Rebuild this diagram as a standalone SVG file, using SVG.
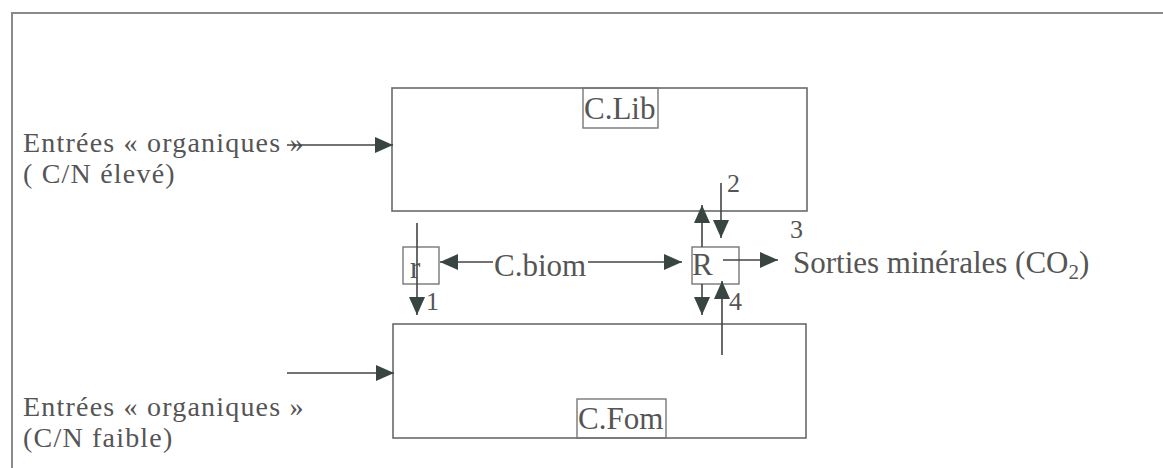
<svg xmlns="http://www.w3.org/2000/svg" width="1163" height="468" viewBox="0 0 1163 468">
<defs>
<style>
.t{font-family:"Liberation Serif","Times New Roman",serif;font-size:31px;fill:#555}
.e{font-family:"Liberation Serif","Times New Roman",serif;font-size:28px;letter-spacing:1.2px;fill:#555}
.d{font-family:"Liberation Serif","Times New Roman",serif;font-size:26px;fill:#555}
.box{fill:none;stroke:#6a6a6a;stroke-width:1.6}
.lbl{fill:none;stroke:#777;stroke-width:1.4}
.c{fill:none;stroke:#444;stroke-width:1.6}
</style>
<marker id="ah" markerUnits="userSpaceOnUse" markerWidth="18" markerHeight="16" refX="18" refY="8" orient="auto" viewBox="0 0 18 16">
<path d="M0,0 L18,8 L0,16 z" fill="#384542"/>
</marker>
</defs>
<rect width="1163" height="468" fill="#fff"/>
<g id="frame">
<path d="M12,468 V13 H1163" fill="none" stroke="#8a8a8a" stroke-width="2"/>
</g>
<g id="clib">
<rect class="box" x="392" y="88" width="415" height="123"/>
<rect class="lbl" x="583" y="88" width="75" height="40"/>
<text class="t" x="584" y="119">C.Lib</text>
</g>
<g id="cfom">
<rect class="box" x="393" y="324" width="413" height="114"/>
<rect class="lbl" x="577" y="399" width="89" height="39"/>
<text class="t" x="578" y="429">C.Fom</text>
</g>
<g id="r-small">
<rect class="lbl" x="403" y="247" width="36" height="37"/>
<text class="t" x="410" y="278">r</text>
</g>
<g id="r-big">
<rect class="lbl" x="692" y="247" width="47" height="37"/>
<text class="t" x="692" y="275">R</text>
</g>
<g id="cbiom">
<text class="t" x="494" y="276">C.biom</text>
</g>
<g id="in-high">
<text class="e"><tspan x="23" y="152">Entrées « organiques »</tspan><tspan x="23" y="183">( C/N élevé)</tspan></text>
</g>
<g id="in-low">
<text class="e"><tspan x="23" y="416">Entrées « organiques »</tspan><tspan x="23" y="447">(C/N faible)</tspan></text>
</g>
<g id="out">
<text class="t" x="793" y="273">Sorties minérales (CO<tspan font-size="21" dy="6">2</tspan><tspan dy="-6">)</tspan></text>
</g>
<g id="numbers">
<text class="d" x="426" y="310">1</text>
<text class="d" x="727" y="192">2</text>
<text class="d" x="790" y="238">3</text>
<text class="d" x="729" y="310">4</text>
</g>
<g id="connectors">
<line class="c" x1="287" y1="145" x2="393" y2="145" marker-end="url(#ah)"/>
<line class="c" x1="287" y1="373" x2="394" y2="373" marker-end="url(#ah)"/>
<line class="c" x1="417" y1="223" x2="417" y2="315" marker-end="url(#ah)"/>
<line class="c" x1="493" y1="262" x2="440" y2="262" marker-end="url(#ah)"/>
<line class="c" x1="588" y1="262" x2="682" y2="262" marker-end="url(#ah)"/>
<line class="c" x1="723" y1="260" x2="778" y2="260" marker-end="url(#ah)"/>
<line class="c" x1="702" y1="247" x2="702" y2="205" marker-end="url(#ah)"/>
<line class="c" x1="721" y1="183" x2="721" y2="238" marker-end="url(#ah)"/>
<line class="c" x1="702" y1="284" x2="702" y2="315" marker-end="url(#ah)"/>
<line class="c" x1="722" y1="355" x2="722" y2="281" marker-end="url(#ah)"/>
</g>
</svg>
